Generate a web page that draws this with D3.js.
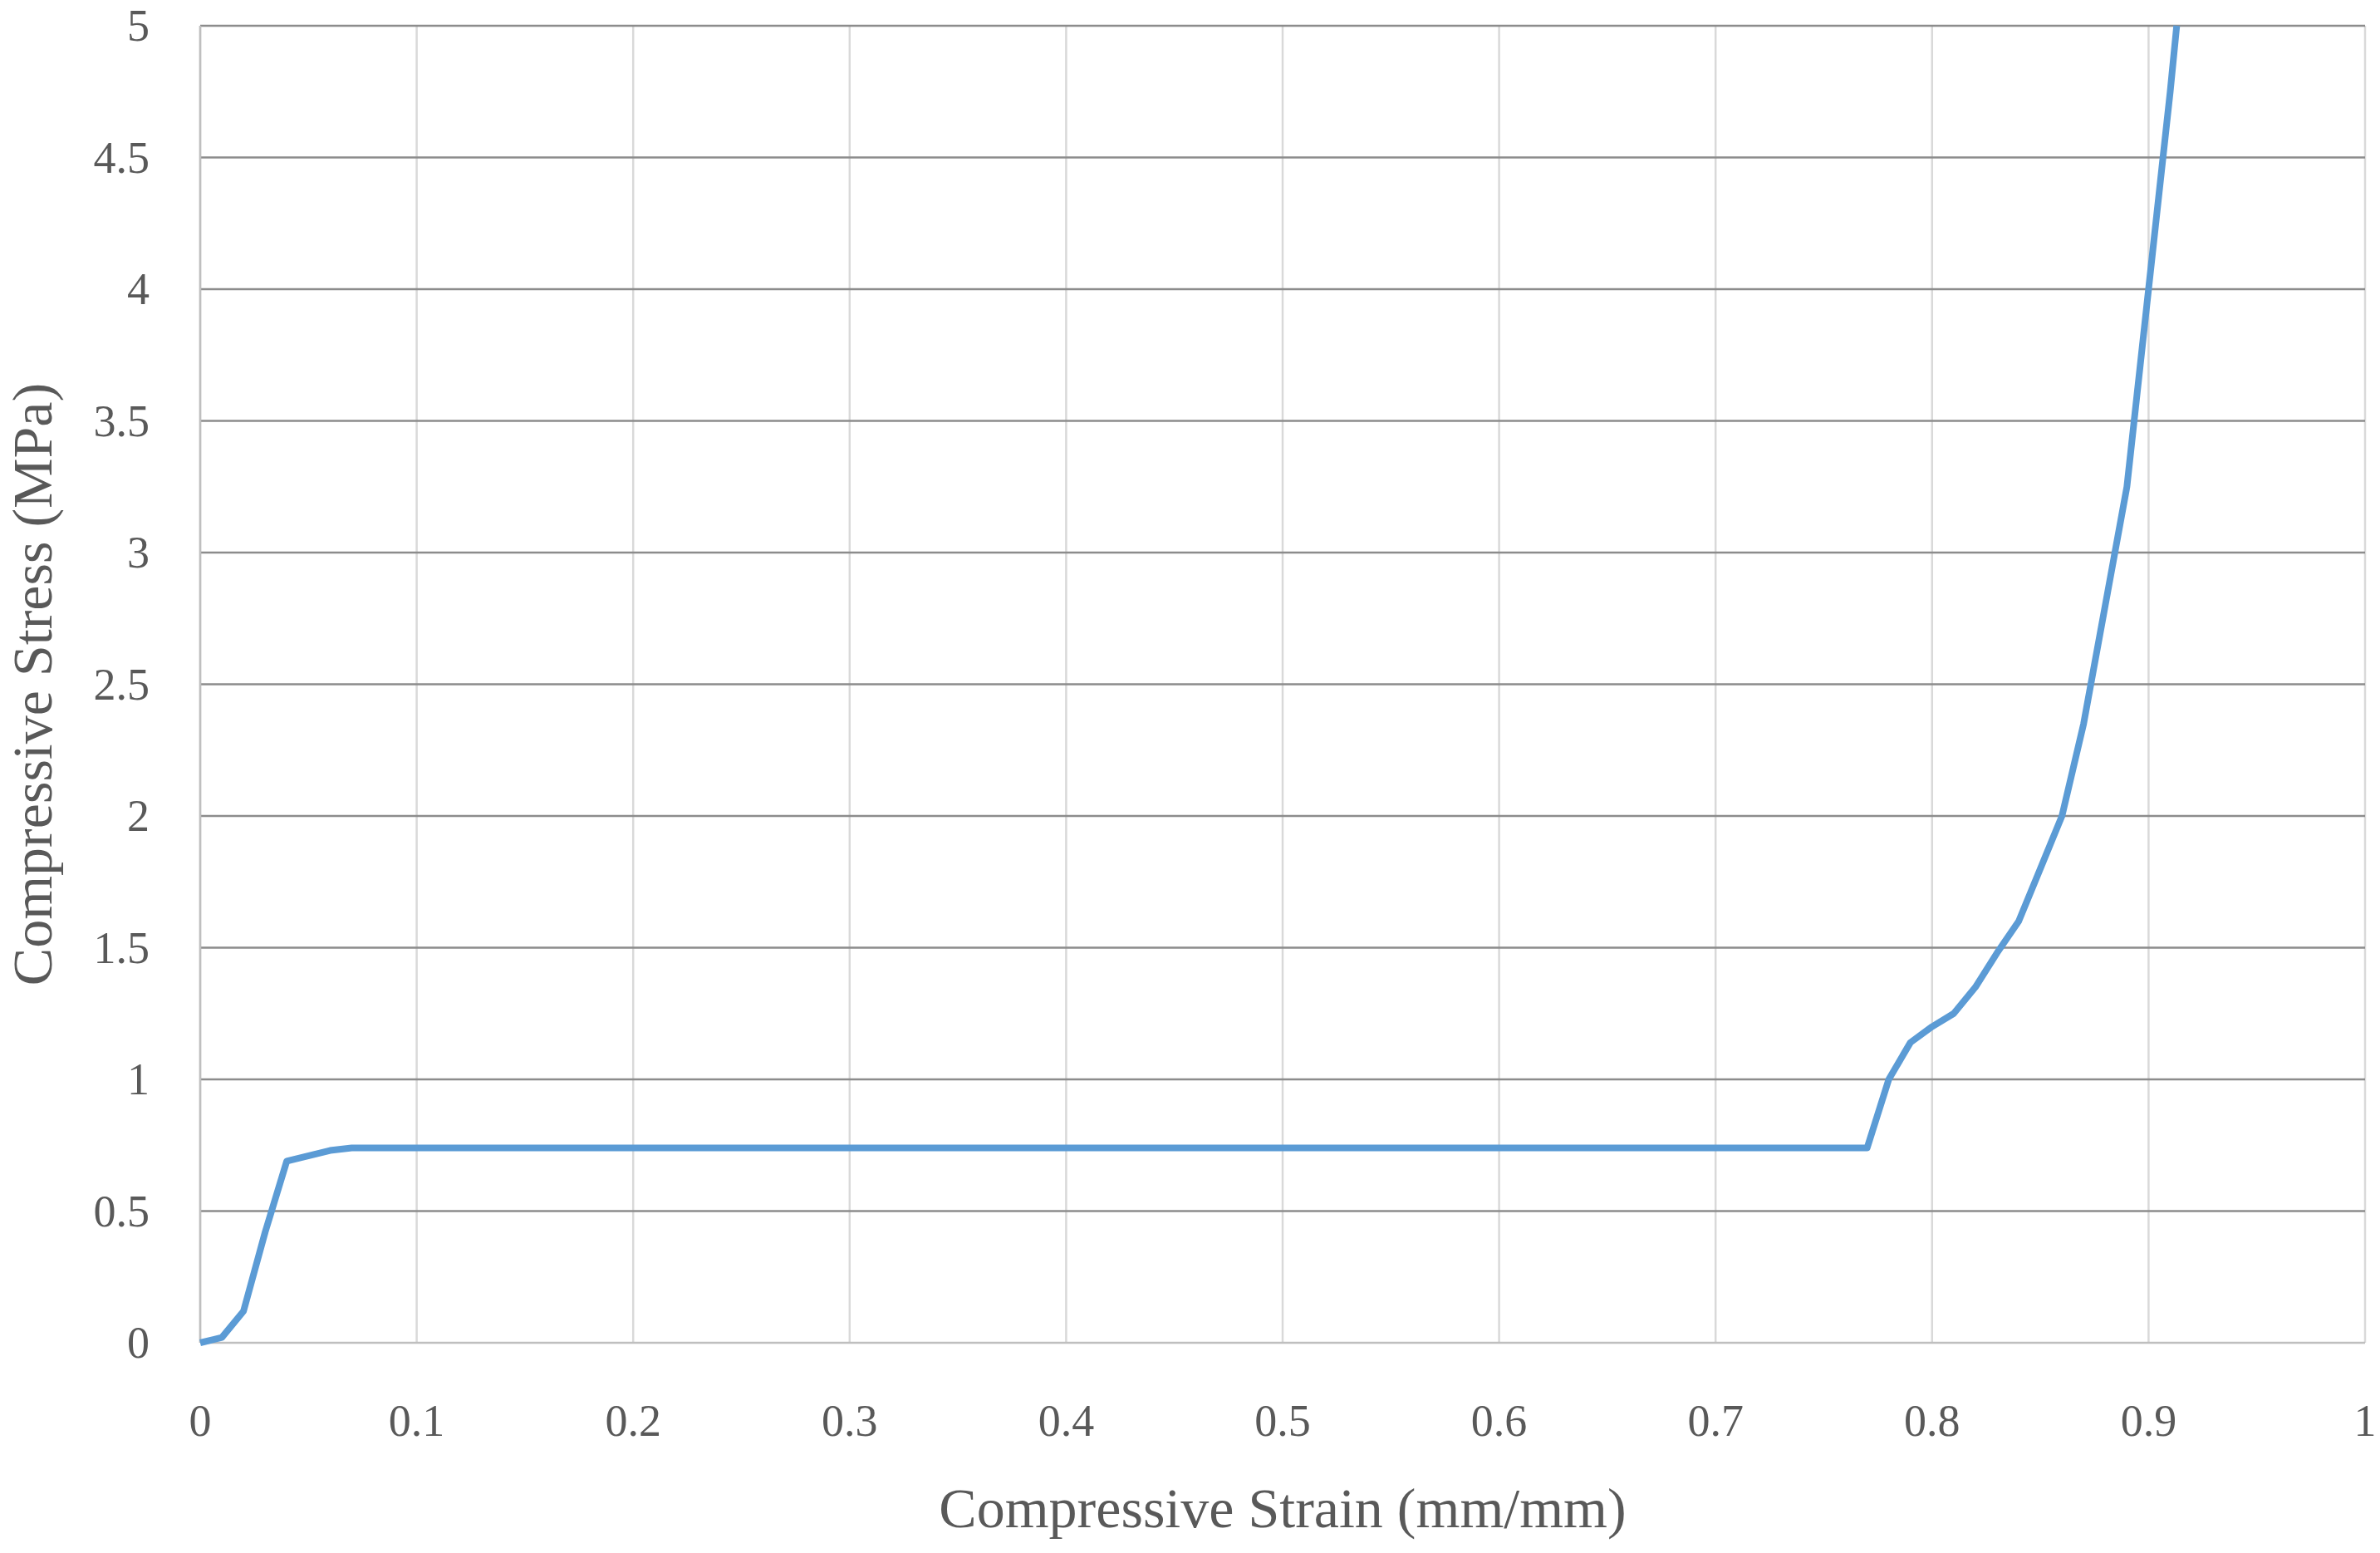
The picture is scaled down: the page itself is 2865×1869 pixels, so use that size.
<!DOCTYPE html>
<html>
<head>
<meta charset="utf-8">
<script src="https://cdn.jsdelivr.net/npm/d3@7"></script>
<style>
  body { margin: 0; background: #fff; }
  text { font-family: "Liberation Serif", "DejaVu Serif", serif; fill: #595959; }
</style>
</head>
<body>
<svg id="chart" width="2865" height="1869"></svg>
<script>
// strain (mm/mm) and stress (MPa)
var strain = [0, 0.01, 0.02, 0.03, 0.04, 0.06, 0.07, 0.1, 0.2, 0.3, 0.4, 0.5, 0.6, 0.7, 0.77,
              0.78, 0.79, 0.80, 0.81, 0.82, 0.83, 0.84, 0.85, 0.86, 0.87, 0.88, 0.89, 0.90, 0.91, 0.913];
var stress = [0, 0.02, 0.12, 0.42, 0.69, 0.73, 0.74, 0.74, 0.74, 0.74, 0.74, 0.74, 0.74, 0.74, 0.74,
              1.0, 1.14, 1.2, 1.25, 1.35, 1.48, 1.6, 1.8, 2.0, 2.35, 2.8, 3.25, 4.0, 4.75, 5.0];
var xTicks = [0, 0.1, 0.2, 0.3, 0.4, 0.5, 0.6, 0.7, 0.8, 0.9, 1];
var yTicks = [0, 0.5, 1, 1.5, 2, 2.5, 3, 3.5, 4, 4.5, 5];

var svg = d3.select("#chart");
// "top" is taken by window.top, so plot edges get their own names
var plotL = 241, plotR = 2847, plotT = 31, plotB = 1616;

var x = d3.scaleLinear().domain([0, 1]).range([plotL, plotR]);
var y = d3.scaleLinear().domain([0, 5]).range([plotB, plotT]);

// vertical gridlines (light)
svg.append("g").selectAll("line").data(xTicks).enter().append("line")
  .attr("x1", d => x(d)).attr("x2", d => x(d))
  .attr("y1", plotT).attr("y2", plotB)
  .attr("stroke", "#d9d9d9").attr("stroke-width", 2.5);

// horizontal gridlines (darker)
svg.append("g").selectAll("line").data(yTicks).enter().append("line")
  .attr("x1", plotL).attr("x2", plotR)
  .attr("y1", d => y(d)).attr("y2", d => y(d))
  .attr("stroke", d => d === 0 ? "#bfbfbf" : "#8c8c8c").attr("stroke-width", 2.5);

// left axis line
svg.append("line").attr("x1", plotL).attr("x2", plotL).attr("y1", plotT).attr("y2", plotB)
  .attr("stroke", "#bfbfbf").attr("stroke-width", 2.5);

// tick labels
svg.append("g").selectAll("text").data(xTicks).enter().append("text")
  .attr("x", d => x(d)).attr("y", 1728)
  .attr("text-anchor", "middle").attr("font-size", 54)
  .text(d => d3.format("~g")(d));

svg.append("g").selectAll("text").data(yTicks).enter().append("text")
  .attr("x", 180).attr("y", d => y(d) + 18)
  .attr("text-anchor", "end").attr("font-size", 54)
  .text(d => d3.format("~g")(d));

// axis titles
svg.append("text").attr("x", (plotL + plotR) / 2).attr("y", 1838)
  .attr("text-anchor", "middle").attr("font-size", 68)
  .text("Compressive Strain (mm/mm)");

svg.append("text").attr("transform", "translate(62," + ((plotT + plotB) / 2) + ") rotate(-90)")
  .attr("text-anchor", "middle").attr("font-size", 68)
  .text("Compressive Stress (MPa)");

// curve
var line = d3.line().x((d, i) => x(strain[i])).y(d => y(d));
svg.append("path").datum(stress)
  .attr("d", line)
  .attr("fill", "none").attr("stroke", "#5b9bd5")
  .attr("stroke-width", 8).attr("stroke-linejoin", "round");
</script>
</body>
</html>
